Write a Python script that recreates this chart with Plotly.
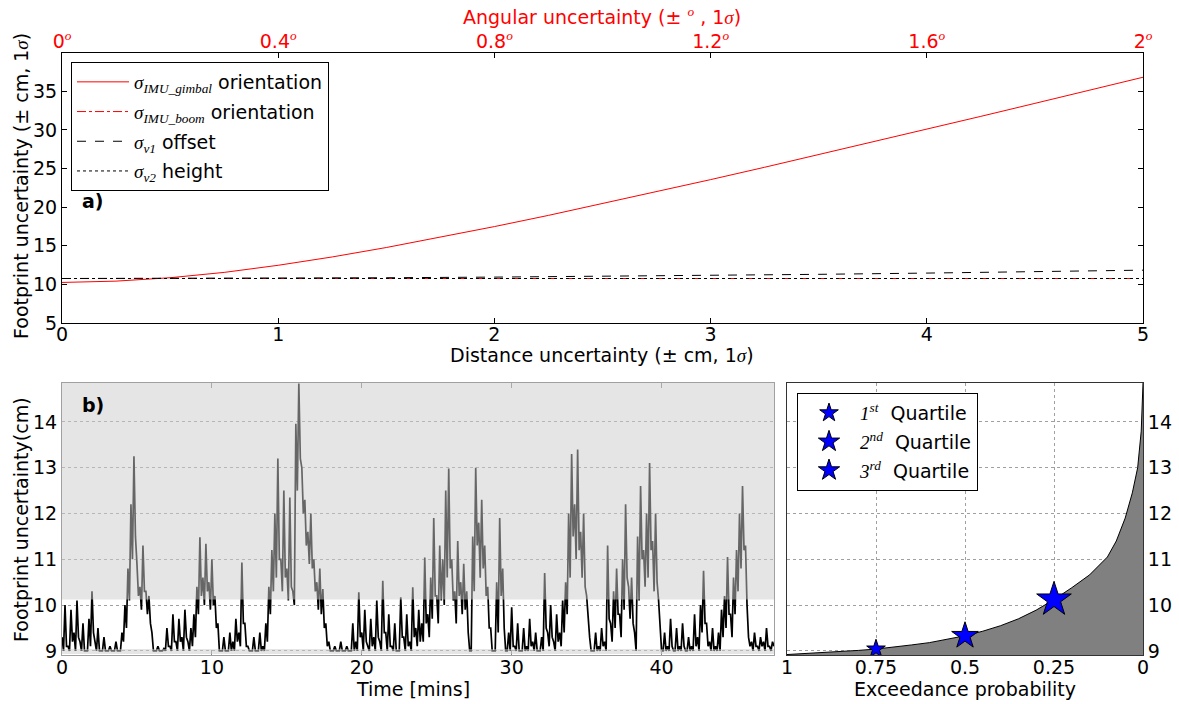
import plotly.graph_objects as go

# ---------------- data: panel a ----------------
dist_x = [0, 0.25, 0.5, 0.75, 1, 1.25, 1.5, 1.75, 2, 2.25, 2.5, 2.75, 3, 3.25, 3.5, 3.75, 4, 4.25, 4.5, 4.75, 5]
gimbal = [10.25, 10.42, 10.86, 11.55, 12.47, 13.55, 14.77, 16.08, 17.48, 18.93, 20.44, 21.98, 23.56, 25.16,
          26.79, 28.43, 30.08, 31.75, 33.43, 35.11, 36.81]
dist_x2 = [0, 0.5, 1, 1.5, 2, 2.5, 3, 3.5, 4, 4.5, 5]
boom = [10.76, 10.76, 10.76, 10.76, 10.76, 10.76, 10.76, 10.76, 10.76, 10.76, 10.76]
offset = [10.76, 10.77, 10.81, 10.86, 10.94, 11.04, 11.16, 11.30, 11.46, 11.64, 11.84]
height = [10.76, 10.76, 10.76, 10.76, 10.76, 10.76, 10.76, 10.76, 10.76, 10.76, 10.76]
ang_ticks = [0, 0.4, 0.8, 1.2, 1.6, 2.0]
ang_labels = ["0", "0.4", "0.8", "1.2", "1.6", "2"]

# ---------------- data: panel b (time series) ----------------
# upper readings every 0.2 min, lower readings in between (0.1 min later)
t_step = 0.2
fp_hi = [
    9.3, 10.0, 9.1, 9.9, 9.4, 10.1, 9.2, 9.6, 9.0, 9.7,
    10.3, 9.2, 9.5, 9.0, 9.3, 9.0, 9.1, 9.0, 9.2, 9.0,
    9.4, 10.0, 10.8, 12.2, 13.25, 10.9, 10.4, 11.3, 10.3, 10.2,
    9.4, 9.0, 9.1, 9.0, 9.05, 9.5, 9.1, 9.8, 9.2, 9.7,
    9.3, 9.9, 9.2, 9.5, 9.8, 10.4, 11.48, 10.6, 11.34, 10.5,
    11.0, 10.2, 9.6, 9.0, 9.3, 9.0, 9.4, 9.2, 9.7, 9.4,
    10.93, 9.6, 9.1, 9.0, 9.3, 9.0, 9.4, 9.1, 9.6, 10.4,
    11.2, 12.0, 13.2, 11.0, 12.5, 10.8, 12.35, 10.3, 13.96, 14.84,
    13.0, 12.3, 11.6, 12.0, 11.0, 10.5, 10.8, 10.35, 9.6, 9.2,
    9.0, 9.1, 9.0, 9.2, 9.0, 9.1, 9.0, 9.6, 9.2, 10.28,
    9.4, 9.9, 9.1, 9.7, 9.3, 10.1, 9.2, 10.53, 9.4, 9.8,
    9.1, 9.6, 9.0, 10.17, 9.3, 9.8, 9.2, 10.39, 9.5, 9.9,
    9.6, 11.04, 9.8, 10.6, 11.9, 10.2, 11.3, 11.0, 12.5, 12.98,
    11.0, 10.3, 11.4, 10.5, 10.9, 10.3, 9.0, 11.5, 13.0, 11.8,
    12.3, 11.3, 10.4, 9.5, 9.0, 10.5, 11.9, 10.8, 9.0, 9.4,
    9.95, 9.1, 9.6, 9.0, 9.5, 9.1, 9.7, 9.2, 9.4, 9.0,
    9.3, 10.7, 9.4, 10.0, 9.2, 9.8, 9.4, 10.1, 10.5, 12.0,
    13.3, 12.2, 13.4, 11.6, 12.0, 10.2, 9.3, 9.0, 9.4, 9.1,
    9.5, 9.2, 11.3, 9.6, 10.3, 10.8, 9.8, 11.0, 12.2, 10.4,
    10.6, 9.4, 11.5, 12.6, 11.2, 12.0, 13.1, 11.4, 12.0, 10.1,
    9.0, 9.4, 9.1, 9.7, 9.0, 9.5, 9.1, 9.6, 9.0, 9.3,
    9.1, 9.8, 9.3, 10.0, 10.75, 9.6, 9.2, 9.5, 9.1, 9.4,
    9.9, 10.2, 11.05, 9.8, 10.6, 11.2, 12.0, 12.6, 11.3, 9.3,
    9.2, 9.4, 9.1, 9.3, 9.2, 9.5, 9.1, 9.2,
]
fp_lo = [
    9.0, 9.1, 9.0, 9.2, 9.0, 9.3, 9.0, 9.0, 9.0, 9.1,
    9.4, 9.0, 9.0, 9.0, 9.0, 9.0, 9.0, 9.0, 9.0, 9.0,
    9.2, 9.5, 10.1, 11.0, 11.5, 10.2, 9.9, 10.3, 9.8, 9.6,
    9.0, 9.0, 9.0, 9.0, 9.0, 9.1, 9.0, 9.2, 9.0, 9.2,
    9.0, 9.3, 9.0, 9.1, 9.3, 9.8, 10.2, 10.0, 10.3, 9.9,
    10.0, 9.5, 9.0, 9.0, 9.0, 9.0, 9.0, 9.0, 9.2, 9.1,
    9.6, 9.1, 9.0, 9.0, 9.0, 9.0, 9.0, 9.0, 9.2, 9.8,
    10.3, 10.6, 11.0, 10.3, 10.6, 10.1, 10.4, 10.0, 12.5, 13.2,
    12.0, 11.3, 10.9, 10.8, 10.3, 9.9, 9.8, 9.5, 9.1, 9.0,
    9.0, 9.0, 9.0, 9.0, 9.0, 9.0, 9.0, 9.0, 9.0, 9.3,
    9.0, 9.2, 9.0, 9.1, 9.0, 9.3, 9.0, 9.4, 9.0, 9.1,
    9.0, 9.0, 9.0, 9.3, 9.0, 9.1, 9.0, 9.3, 9.1, 9.2,
    9.2, 9.6, 9.3, 9.7, 10.2, 9.6, 10.1, 10.0, 10.6, 10.8,
    10.1, 9.6, 10.2, 9.8, 9.9, 9.4, 9.0, 10.3, 11.3, 10.6,
    10.8, 10.2, 9.5, 9.0, 9.0, 9.4, 10.2, 9.5, 9.0, 9.0,
    9.1, 9.0, 9.0, 9.0, 9.0, 9.0, 9.1, 9.0, 9.0, 9.0,
    9.0, 9.5, 9.1, 9.3, 9.0, 9.2, 9.1, 9.4, 9.8, 10.6,
    11.5, 11.0, 11.2, 10.6, 10.4, 9.6, 9.0, 9.0, 9.0, 9.0,
    9.1, 9.0, 9.7, 9.2, 9.5, 9.8, 9.3, 9.9, 10.6, 9.7,
    9.6, 9.0, 10.1, 11.0, 10.4, 10.6, 11.2, 10.3, 10.5, 9.4,
    9.0, 9.0, 9.0, 9.1, 9.0, 9.0, 9.0, 9.1, 9.0, 9.0,
    9.0, 9.1, 9.0, 9.4, 9.6, 9.1, 9.0, 9.0, 9.0, 9.0,
    9.3, 9.5, 9.8, 9.3, 9.8, 10.3, 10.8, 11.2, 10.0, 9.1,
    9.0, 9.1, 9.0, 9.1, 9.0, 9.1, 9.0, 9.1,
]
time_min, footprint = [], []
for i, (hi, lo) in enumerate(zip(fp_hi, fp_lo)):
    time_min += [round(i * t_step, 2), round(i * t_step + t_step / 2, 2)]
    footprint += [hi, lo]
fp_min = 8.93
q1, q2, q3 = 9.04, 9.33, 10.12
fp_top = 14.85

# ---------------- data: panel c (exceedance) ----------------
exc_p = [1.0, 0.95, 0.9, 0.85, 0.8, 0.75, 0.7, 0.65, 0.6, 0.55, 0.5, 0.45, 0.4, 0.35, 0.3, 0.25,
         0.2, 0.15, 0.1, 0.075, 0.05, 0.03, 0.015, 0.005, 0.0]
exc_v = [8.92, 8.94, 8.96, 8.99, 9.01, 9.04, 9.08, 9.13, 9.18, 9.25, 9.33, 9.43, 9.55, 9.70, 9.89, 10.12,
         10.38, 10.66, 11.05, 11.4, 11.9, 12.45, 13.0, 13.8, 14.85]
quart_p = [0.75, 0.5, 0.25]
quart_v = [q1, q2, q3]
quart_num = [("1", "st"), ("2", "nd"), ("3", "rd")]
quart_sizes = [14, 20, 26]

W, H = 1179, 704
def px(x): return x / W
def py(y): return 1 - y / H

FONT = "DejaVu Sans"
FS = 19
def m(s):
    return "<span style='font-family:Liberation Serif'><i>" + s + "</i></span>"

fig = go.Figure()

# panel a traces
a_names = [m("σ") + "<sub>" + m("IMU_gimbal") + "</sub> orientation",
           m("σ") + "<sub>" + m("IMU_boom") + "</sub> orientation",
           m("σ") + "<sub>" + m("v1") + "</sub> offset",
           m("σ") + "<sub>" + m("v2") + "</sub> height"]
fig.add_trace(go.Scatter(x=dist_x, y=gimbal, mode="lines", line=dict(color="red", width=1),
                         name=a_names[0], legendgroup="g1", xaxis="x", yaxis="y", legend="legend"))
fig.add_trace(go.Scatter(x=dist_x2, y=boom, mode="lines", line=dict(color="red", width=1, dash="dashdot"),
                         name=a_names[1], legendgroup="g2", xaxis="x", yaxis="y", legend="legend"))
fig.add_trace(go.Scatter(x=dist_x2, y=offset, mode="lines", line=dict(color="black", width=1, dash="dash"),
                         name=a_names[2], legendgroup="g3", xaxis="x", yaxis="y", legend="legend"))
fig.add_trace(go.Scatter(x=dist_x2, y=height, mode="lines", line=dict(color="black", width=1, dash="dot"),
                         name=a_names[3], legendgroup="g4", xaxis="x", yaxis="y", legend="legend"))
fig.add_trace(go.Scatter(x=[ang_ticks[0], ang_ticks[-1]], y=[None, None], mode="lines", showlegend=False,
                         hoverinfo="skip", xaxis="x2", yaxis="y"))

# panel b
fig.add_trace(go.Scatter(x=time_min, y=footprint, mode="lines", line=dict(color="black", width=1.7),
                         showlegend=False, xaxis="x3", yaxis="y3"))

# panel c
fig.add_trace(go.Scatter(x=exc_p, y=exc_v, mode="lines", line=dict(color="black", width=1),
                         fill="tozeroy", fillcolor="#808080", showlegend=False, xaxis="x4", yaxis="y4"))
for p, v, (a, b), s in zip(quart_p, quart_v, quart_num, quart_sizes):
    fig.add_trace(go.Scatter(x=[p], y=[v], mode="markers", name=m(a) + "<sup>" + m(b) + "</sup>  Quartile",
                             legendgroup="q" + a,
                             marker=dict(symbol="star", size=s, color="blue", line=dict(color="black", width=1)),
                             xaxis="x4", yaxis="y4", legend="legend2"))

tickf = dict(family=FONT, size=FS, color="black")
dom_top = [py(323), py(53)]
dom_bot = [py(655), py(383)]

common = dict(automargin=False, zeroline=False, tickfont=tickf)
grid = dict(showgrid=True, gridcolor="#a0a0a0", griddash="dot", gridwidth=1)

def title(text, x, y, color="black", angle=0):
    return dict(text=text, x=px(x), y=py(y), xref="paper", yref="paper", xanchor="center", yanchor="middle",
                textangle=angle, showarrow=False, font=dict(size=FS, color=color))

fig.update_layout(
    width=W, height=H, margin=dict(l=0, r=0, t=0, b=0),
    paper_bgcolor="white", plot_bgcolor="white",
    font=dict(family=FONT, size=FS, color="black"),
    xaxis=dict(domain=[px(62), px(1143)], range=[0, 5], anchor="y", tickvals=[0, 1, 2, 3, 4, 5],
               ticks="inside", ticklen=5, tickcolor="black", showline=True, linecolor="black",
               showgrid=False, ticklabelstandoff=-6, **common),
    xaxis2=dict(overlaying="x", side="top", anchor="y", range=[0, 2], tickvals=ang_ticks,
                ticktext=[l + "<sup>" + m("o") + "</sup>" for l in ang_labels],
                ticks="inside", ticklen=5, tickcolor="black", showline=True, linecolor="black",
                showgrid=False, automargin=False, zeroline=False, ticklabelstandoff=-4,
                tickfont=dict(family=FONT, size=FS, color="red")),
    yaxis=dict(domain=dom_top, range=[5, 39.95], anchor="x", tickvals=[5, 10, 15, 20, 25, 30, 35],
               ticks="inside", ticklen=5, tickcolor="black", showline=True, linecolor="black", mirror="ticks",
               showgrid=False, **common),
    xaxis3=dict(domain=[px(62), px(774)], range=[0, 47.5], anchor="y3", tickvals=[0, 10, 20, 30, 40],
                ticks="inside", ticklen=5, tickcolor="#888", showline=True, linecolor="#a0a0a0", mirror="ticks",
                showgrid=False, ticklabelstandoff=-5, **common),
    yaxis3=dict(domain=dom_bot, range=[8.91, fp_top], anchor="x3", tickvals=[9, 10, 11, 12, 13, 14],
                ticks="", showline=True, linecolor="#a0a0a0", mirror=True, **grid, **common),
    xaxis4=dict(domain=[px(787), px(1143)], range=[1, 0], anchor="y4", tickvals=[1, 0.75, 0.5, 0.25, 0],
                ticktext=["1", "0.75", "0.5", "0.25", "0"],
                ticks="", showline=True, linecolor="#333", mirror=True, ticklabelstandoff=-5, **grid, **common),
    yaxis4=dict(domain=dom_bot, range=[8.91, fp_top], anchor="x4", side="right", tickvals=[9, 10, 11, 12, 13, 14],
                ticks="", showline=True, linecolor="#333", mirror=True, **grid, **common),
    legend=dict(x=px(71), y=py(62), xanchor="left", yanchor="top", bordercolor="black", borderwidth=1,
                bgcolor="white", font=dict(family=FONT, size=FS), tracegroupgap=2, itemwidth=52),
    legend2=dict(x=px(797), y=py(393), xanchor="left", yanchor="top", bordercolor="black", borderwidth=1,
                 bgcolor="white", font=dict(family=FONT, size=FS), itemsizing="trace", tracegroupgap=1,
                 itemwidth=52),
    shapes=[
        dict(type="rect", xref="x3", yref="y3", x0=0, x1=47.5, y0=q3, y1=fp_top, layer="above",
             fillcolor="rgba(204,204,204,0.5)", line=dict(width=0)),
        dict(type="rect", xref="x3", yref="y3", x0=0, x1=47.5, y0=fp_min, y1=q1, layer="above",
             fillcolor="rgba(204,204,204,0.5)", line=dict(width=0)),
    ],
    annotations=[
        dict(text="<b>a)</b>", x=px(80), y=py(201), xref="paper", yref="paper", xanchor="left",
             yanchor="middle", showarrow=False, font=dict(size=FS)),
        dict(text="<b>b)</b>", x=px(80), y=py(405), xref="paper", yref="paper", xanchor="left",
             yanchor="middle", showarrow=False, font=dict(size=FS)),
        title("Angular uncertainty (± <sup>" + m("o") + "</sup> , 1" + m("σ") + ")", 602, 16, color="red"),
        title("Distance uncertainty (± cm, 1" + m("σ") + ")", 602, 355),
        title("Footprint uncertainty (± cm, 1" + m("σ") + ")", 21, 186, angle=-90),
        title("Footprint uncertainty(cm)", 21, 520, angle=-90),
        title("Time [mins]", 413, 689),
        title("Exceedance probability", 965, 689),
    ],
)

fig.write_html("out.html", post_script="document.body.style.margin='0px';",
               config={"displayModeBar": False})
